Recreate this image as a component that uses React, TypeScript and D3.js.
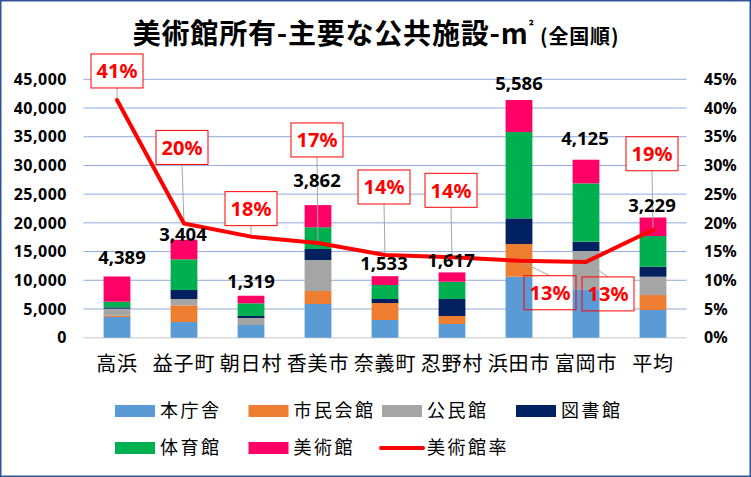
import React from 'react';
import * as d3 from 'd3';

// 美術館所有の主要公共施設の延床面積（㎡）
const categories = ['高浜', '益子町', '朝日村', '香美市', '奈義町', '忍野村', '浜田市', '富岡市', '平均'];
const seriesNames = ['本庁舎', '市民会館', '公民館', '図書館', '体育館', '美術館'];
const honchousha = [3600, 2730, 2210, 5870, 3080, 2390, 10620, 8430, 4820];
const shiminKaikan = [230, 2910, 0, 2260, 2960, 1390, 5690, 0, 2610];
const kouminkan = [1220, 1100, 1220, 5400, 0, 0, 0, 6670, 3190];
const toshokan = [240, 1570, 350, 1920, 700, 2960, 4470, 1620, 1740];
const taiikukan = [980, 5340, 2210, 3780, 2440, 3010, 15030, 10150, 5340];
const bijutsukan = [4389, 3404, 1319, 3862, 1533, 1617, 5586, 4125, 3229];
// 美術館率
const artRatio = [0.414, 0.199, 0.176, 0.165, 0.144, 0.14, 0.134, 0.132, 0.188];

const leftTicks = [0, 5000, 10000, 15000, 20000, 25000, 30000, 35000, 40000, 45000];
const rightTicks = [0, 0.05, 0.1, 0.15, 0.2, 0.25, 0.3, 0.35, 0.4, 0.45];

// hand placed labels in the original (pixel nudges)
const barLabelNudge = [[5, -12], [-1, 1], [0, -8], [-1, -18], [-1, -6], [-1, -5], [0, -10], [-1, -15], [-1, -6]];
const ratioLabelNudge = [[0, -29], [-2, -76], [0, -28], [-1, -103], [-1, -68], [-1, -67], [31, 32], [22, 32], [-1, -76]];

const colors = ['#5B9BD5', '#ED7D31', '#A5A5A5', '#002060', '#00B050', '#FF0066'];
const lineColor = '#FF0000';

const W = 751;
const H = 477;
const plot = { left: 83.5, right: 686.5, top: 79.3, bottom: 337.7 };

export default function App() {
  const seriesValues = [honchousha, shiminKaikan, kouminkan, toshokan, taiikukan, bijutsukan];
  const table = categories.map((c, i) => {
    const row: Record<string, any> = { category: c };
    seriesNames.forEach((s, k) => (row[s] = seriesValues[k][i]));
    return row;
  });
  const stacked = d3.stack<any>().keys(seriesNames)(table);

  const x = d3.scaleBand().domain(categories).range([plot.left, plot.right]).paddingInner(0.6).paddingOuter(0.3);
  const y = d3.scaleLinear().domain([0, 45000]).range([plot.bottom, plot.top]);
  const yr = d3.scaleLinear().domain([0, 0.45]).range([plot.bottom, plot.top]);
  const cx = (c: string) => (x(c) ?? 0) + x.bandwidth() / 2;

  const line = d3.line<number>().x((_, i) => cx(categories[i])).y((d) => yr(d));
  const totals = categories.map((_, i) => stacked[stacked.length - 1][i][1]);

  const boxW = 52;
  const boxH = 34;
  const boxes = artRatio.map((r, i) => {
    const px = cx(categories[i]);
    const py = yr(r);
    const bx = px + ratioLabelNudge[i][0];
    const by = py + ratioLabelNudge[i][1];
    return { px, py, bx, by, text: `${Math.round(r * 100)}%` };
  });

  const fmt = d3.format(',');
  const legendCols = [115, 248.5, 382, 516];
  const legendRows = [411, 448];
  const legendItems = [...seriesNames.map((n, k) => ({ name: n, color: colors[k], line: false })), { name: '美術館率', color: lineColor, line: true }];

  const numFont = '"Noto Sans", "DejaVu Sans", sans-serif';
  const jpFont = '"Noto Sans CJK JP", "Noto Sans", sans-serif';

  return (
    <svg width={W} height={H} style={{ position: 'absolute', left: 0, top: 0, background: '#fff' }}>
      <rect x={0.75} y={0.75} width={W - 1.5} height={H - 1.5} fill="#fff" stroke="#2F5597" strokeWidth={1.5} />

      <text x={376} y={44} textAnchor="middle" fontFamily={jpFont} fontWeight="bold" fontSize={28} letterSpacing={0.8} fill="#000">
        美術館所有-主要な公共施設-m
        <tspan fontSize={13} dy={-13}>²</tspan>
        <tspan fontSize={20} dy={13}> (全国順)</tspan>
      </text>

      {/* gridlines */}
      {leftTicks.map((t) => (
        <line key={t} x1={plot.left} x2={plot.right} y1={y(t)} y2={y(t)} stroke={t === 0 ? '#D9D9D9' : '#8FAADC'} strokeWidth={t === 0 ? 1.5 : 1} />
      ))}

      {/* label box backgrounds */}
      {boxes.map((b, i) => (
        <rect key={i} x={b.bx - boxW / 2} y={b.by - boxH / 2} width={boxW} height={boxH} fill="#fff" />
      ))}

      {/* stacked bars */}
      {stacked.map((s, k) => (
        <g key={s.key} fill={colors[k]}>
          {s.map((d, i) => (
            <rect key={i} x={x(categories[i])} y={y(d[1])} width={x.bandwidth()} height={Math.max(0, y(d[0]) - y(d[1]))} />
          ))}
        </g>
      ))}

      {/* leader lines */}
      {boxes.map((b, i) => {
        const above = b.by < b.py;
        const ey = above ? b.by + boxH / 2 : b.by - boxH / 2;
        if (Math.abs(ey - b.py) < 4) return null;
        return <line key={i} x1={b.px} y1={b.py} x2={b.bx} y2={ey} stroke="#A6A6A6" strokeWidth={1} />;
      })}

      <path d={line(artRatio) ?? ''} fill="none" stroke={lineColor} strokeWidth={4} strokeLinejoin="round" strokeLinecap="round" />

      {/* ratio labels */}
      {boxes.map((b, i) => (
        <g key={i}>
          <rect x={b.bx - boxW / 2} y={b.by - boxH / 2} width={boxW} height={boxH} fill="none" stroke={lineColor} strokeWidth={1} />
          <text x={b.bx} y={b.by} dy="0.36em" textAnchor="middle" fontFamily={numFont} fontWeight="bold" fontSize={20} fill={lineColor}>
            {b.text}
          </text>
        </g>
      ))}

      {/* value labels */}
      {bijutsukan.map((v, i) => (
        <text key={i} x={cx(categories[i]) + barLabelNudge[i][0]} y={y(totals[i]) + barLabelNudge[i][1]} textAnchor="middle" fontFamily={numFont} fontWeight="bold" fontSize={18.5} fill="#000">
          {fmt(v)}
        </text>
      ))}

      {/* axes */}
      {leftTicks.map((t) => (
        <text key={t} x={67} y={y(t)} dy="0.36em" textAnchor="end" fontFamily={numFont} fontWeight="bold" fontSize={16} letterSpacing={0.5} fill="#000">
          {fmt(t)}
        </text>
      ))}
      {rightTicks.map((t) => (
        <text key={t} x={704} y={yr(t)} dy="0.36em" textAnchor="start" fontFamily={numFont} fontWeight="bold" fontSize={16} fill="#000">
          {d3.format('.0%')(t)}
        </text>
      ))}
      {categories.map((c) => (
        <text key={c} x={cx(c)} y={371} textAnchor="middle" fontFamily={jpFont} fontSize={20} letterSpacing={0.8} fill="#000">
          {c}
        </text>
      ))}

      {/* legend */}
      {legendItems.map((it, k) => {
        const lx = legendCols[k % 4];
        const ly = legendRows[Math.floor(k / 4)];
        return (
          <g key={it.name}>
            {it.line ? (
              <line x1={lx - 1} x2={lx + 41} y1={ly} y2={ly} stroke={it.color} strokeWidth={4} strokeLinecap="round" />
            ) : (
              <rect x={lx} y={ly - 6} width={40} height={12} fill={it.color} />
            )}
            <text x={lx + 45} y={ly} dy="0.33em" fontFamily={jpFont} fontSize={18} letterSpacing={2.5} fill="#000">
              {it.name}
            </text>
          </g>
        );
      })}
    </svg>
  );
}
